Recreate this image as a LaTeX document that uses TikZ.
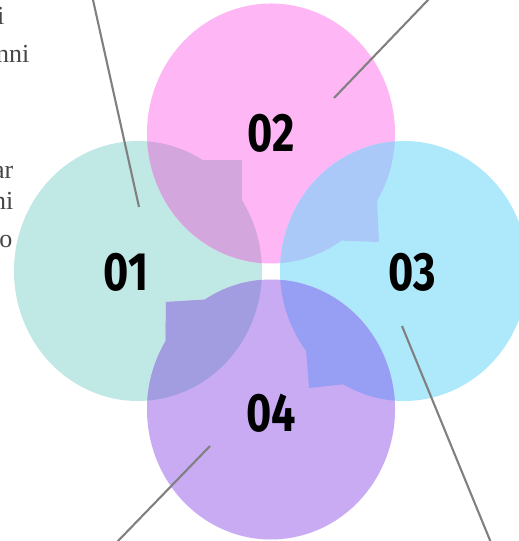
\documentclass[tikz,border=0pt]{standalone}
\usepackage{fontspec}
\setmainfont{Liberation Serif}
\newfontfamily\numfont{Fira Sans}
\usetikzlibrary{calc}
\definecolor{cteal}{RGB}{192,232,229}
\definecolor{cpink}{RGB}{255,182,245}
\definecolor{cblue}{RGB}{174,232,251}
\definecolor{cpurple}{RGB}{201,171,244}
\definecolor{ctp}{RGB}{211,167,222}
\definecolor{cpb}{RGB}{171,201,248}
\definecolor{cbu}{RGB}{150,159,244}
\definecolor{cut}{RGB}{162,157,224}
\definecolor{lgray}{RGB}{128,128,128}
\definecolor{tgray}{RGB}{70,70,70}
\def\pathA{($(138,270)+(58.5:124 and 130)$) arc[start angle=58.5,end angle=393.06,x radius=124,y radius=130] -- (242,381) -- cycle}
\def\pathB{($(271,407.5)+(-31.2:124 and 130)$) arc[start angle=-31.2,end angle=304.5,x radius=124,y radius=130] -- (379,299) -- cycle}
\def\pathC{($(404,270)+(240.7:124 and 130)$) arc[start angle=240.7,end angle=577.9,x radius=124,y radius=130] -- (309,153) -- cycle}
\def\pathD{($(271,131.5)+(148.3:124 and 130)$) arc[start angle=148.3,end angle=482.3,x radius=124,y radius=130] -- (166,239) -- cycle}
\tikzset{
  numlabel/.style={font=\numfont\bfseries\fontsize{54}{54}\selectfont, text=black, inner sep=0pt},
  sidetext/.style={font=\fontsize{26}{36}\selectfont, text=tgray, inner sep=0pt, anchor=base east},
  leader/.style={draw=lgray, line width=2.1pt}
}
\begin{document}
\begin{tikzpicture}[x=1pt,y=1pt]
\useasboundingbox (0,0) rectangle (519,541);
\clip (0,0) rectangle (519,541);
\fill[cteal] \pathA;
\fill[cpink] \pathB;
\fill[cblue] \pathC;
\fill[cpurple] \pathD;
\begin{scope}\clip \pathA; \fill[ctp] \pathB; \end{scope}
\begin{scope}\clip \pathB; \fill[cpb] \pathC; \end{scope}
\begin{scope}\clip \pathC; \fill[cbu] \pathD; \end{scope}
\begin{scope}\clip \pathD; \fill[cut] \pathA; \end{scope}
\node[numlabel] (n1) at (126,268.5) {\scalebox{0.8}[1]{01}};
\node[numlabel] (n2) at (271,407.5) {\scalebox{0.8}[1]{02}};
\node[numlabel] (n3) at (412,268.5) {\scalebox{0.8}[1]{03}};
\node[numlabel] (n4) at (271.5,127.5) {\scalebox{0.8}[1]{04}};
\coordinate (l1a) at (139,334); \coordinate (l1b) at (90.8,551);
\coordinate (l2a) at (334,443); \coordinate (l2b) at (437.6,551);
\coordinate (l3a) at (402,215); \coordinate (l3b) at (494,-9);
\coordinate (l4a) at (210,95);  \coordinate (l4b) at (109.3,-9);
\draw[leader] (l1a) -- (l1b);
\draw[leader] (l2a) -- (l2b);
\draw[leader] (l3a) -- (l3b);
\draw[leader] (l4a) -- (l4b);
\node[sidetext] (t1) at (4.5,516) {i};
\node[sidetext] (t2) at (29.5,478) {nni};
\node[sidetext] (t3) at (13.5,362.7) {ar};
\node[sidetext] (t4) at (13.5,331.5) {ni};
\node[sidetext] (t5) at (12.5,293) {o};
\end{tikzpicture}
\end{document}
